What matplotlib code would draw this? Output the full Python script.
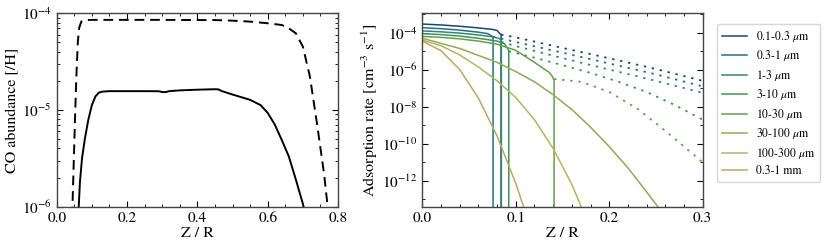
import numpy as np
import matplotlib
matplotlib.use("Agg")
import matplotlib.pyplot as plt
from matplotlib.ticker import MultipleLocator, FixedLocator, NullFormatter

plt.rcParams.update({
    "font.family": "STIXGeneral",
    "mathtext.fontset": "stix",
    "font.size": 11,
    "axes.labelsize": 11.5,
    "xtick.direction": "in",
    "ytick.direction": "in",
    "xtick.top": True,
    "ytick.right": True,
    "xtick.major.size": 4,
    "ytick.major.size": 4,
    "xtick.minor.size": 2,
    "ytick.minor.size": 2,
    "axes.edgecolor": "#444444",
    "axes.linewidth": 1.0,
})

# ---- left panel: CO abundance vs Z/R (log10 values)
z_total = [0.044, 0.048, 0.052, 0.056, 0.060, 0.064, 0.070, 0.080, 0.10, 0.20, 0.30,
           0.40, 0.45, 0.50, 0.55, 0.60, 0.64, 0.66, 0.68, 0.69, 0.70, 0.72, 0.74,
           0.76, 0.772]
co_total = [-6.1, -5.6, -5.1, -4.65, -4.3, -4.15, -4.085, -4.07, -4.068, -4.068, -4.068,
            -4.07, -4.07, -4.076, -4.086, -4.103, -4.121, -4.155, -4.207, -4.276, -4.345,
            -4.655, -5.138, -5.655, -6.05]

z_gas = [0.062, 0.066, 0.072, 0.080, 0.090, 0.100, 0.110, 0.120, 0.130, 0.15, 0.20, 0.25,
         0.29, 0.30, 0.31, 0.32, 0.35, 0.40, 0.45, 0.46, 0.47, 0.50, 0.55, 0.58, 0.60,
         0.62, 0.64, 0.66, 0.68, 0.70, 0.705]
co_gas = [-6.05, -5.75, -5.5, -5.3, -5.1, -4.95, -4.86, -4.82, -4.81, -4.805, -4.805, -4.805,
          -4.806, -4.814, -4.815, -4.805, -4.797, -4.79, -4.785, -4.787, -4.805, -4.84, -4.895,
          -4.95, -5.03, -5.15, -5.31, -5.48, -5.72, -5.97, -6.05]

# ---- right panel: adsorption rate per grain-size bin (log10 values)
labels = [r"0.1-0.3 $\mu$m", r"0.3-1 $\mu$m", r"1-3 $\mu$m", r"3-10 $\mu$m",
          r"10-30 $\mu$m", r"30-100 $\mu$m", r"100-300 $\mu$m", "0.3-1 mm"]

z_solid = [
    [0, 0.02, 0.04, 0.06, 0.075, 0.08, 0.083, 0.0843, 0.0843],
    [0, 0.02, 0.04, 0.06, 0.07, 0.0757, 0.0757],
    [0, 0.02, 0.04, 0.06, 0.075, 0.082, 0.0846, 0.0846],
    [0, 0.02, 0.04, 0.06, 0.08, 0.088, 0.0925, 0.0925],
    [0, 0.02, 0.04, 0.06, 0.08, 0.10, 0.12, 0.13, 0.136, 0.139, 0.141, 0.141],
    [0, 0.04, 0.08, 0.10, 0.12, 0.14, 0.16, 0.18, 0.20, 0.22, 0.24, 0.252, 0.26],
    [0, 0.02, 0.04, 0.06, 0.08, 0.10, 0.12, 0.14, 0.16, 0.175],
    [0, 0.02, 0.04, 0.06, 0.08, 0.10, 0.115],
]
rate_solid = [
    [-3.53, -3.58, -3.65, -3.74, -3.82, -3.88, -4.05, -4.1, -15],
    [-3.73, -3.78, -3.86, -3.97, -4.05, -4.22, -15],
    [-3.9, -3.95, -4.02, -4.12, -4.22, -4.3, -4.45, -15],
    [-4.05, -4.1, -4.18, -4.3, -4.45, -4.6, -4.95, -15],
    [-4.2, -4.25, -4.33, -4.45, -4.62, -4.95, -5.6, -5.95, -6.15, -6.35, -6.56, -15],
    [-4.3, -4.85, -5.6, -6.1, -6.65, -7.35, -8.15, -9.1, -10.15, -11.3, -12.6, -13.4, -14],
    [-4.4, -4.7, -5.2, -5.85, -6.6, -7.5, -8.7, -10.25, -12.2, -14],
    [-4.45, -4.97, -5.99, -7.53, -9.58, -12.14, -14.4],
]

# dotted continuation for the five smallest bins
z_dot = [
    [0.0843, 0.10, 0.15, 0.20, 0.25, 0.30],
    [0.0757, 0.10, 0.15, 0.20, 0.25, 0.30],
    [0.0846, 0.10, 0.15, 0.20, 0.25, 0.30],
    [0.0925, 0.12, 0.15, 0.18, 0.21, 0.24, 0.27, 0.30],
    [0.141, 0.17, 0.20, 0.23, 0.26, 0.30],
]
rate_dot = [
    [-4.1, -4.25, -4.82, -5.38, -5.96, -6.6],
    [-4.22, -4.5, -5.08, -5.66, -6.25, -6.9],
    [-4.5, -4.72, -5.37, -5.99, -6.6, -7.25],
    [-5.0, -5.35, -5.75, -6.17, -6.65, -7.2, -7.9, -8.7],
    [-6.5, -6.65, -7.2, -8.1, -9.3, -11.0],
]

colors = plt.cm.gist_earth(np.linspace(0.15, 0.78, len(labels)))

fig = plt.figure(figsize=(8.3, 2.5), dpi=100)
ax1 = fig.add_axes([0.0683, 0.1732, 0.339, 0.7736])
ax2 = fig.add_axes([0.5088, 0.1732, 0.3378, 0.7736])

ax1.plot(z_total, 10.0 ** np.array(co_total), color="k", lw=1.4, ls=(0, (5, 3)))
ax1.plot(z_gas, 10.0 ** np.array(co_gas), color="k", lw=1.4)
ax1.set_yscale("log")
ax1.set_xlim(0, 0.8)
ax1.set_ylim(1e-6, 1e-4)
ax1.xaxis.set_major_locator(MultipleLocator(0.2))
ax1.xaxis.set_minor_locator(MultipleLocator(0.05))
ax1.set_xlabel("Z / R", labelpad=1)
ax1.set_ylabel("CO abundance [/H]", labelpad=2)

for i in range(len(labels)):
    ax2.plot(z_solid[i], 10.0 ** np.array(rate_solid[i]), color=colors[i], lw=1.1,
             label=labels[i])
for i in range(len(z_dot)):
    ax2.plot(z_dot[i], 10.0 ** np.array(rate_dot[i]), color=colors[i], lw=1.3,
             ls=(0, (1.3, 3.2)))
ax2.set_yscale("log")
ax2.set_xlim(0, 0.3)
ax2.set_ylim(10 ** -13.4, 10 ** -2.95)
ax2.xaxis.set_major_locator(MultipleLocator(0.1))
ax2.xaxis.set_minor_locator(MultipleLocator(0.02))
ax2.yaxis.set_major_locator(FixedLocator([1e-12, 1e-10, 1e-8, 1e-6, 1e-4]))
ax2.yaxis.set_minor_locator(FixedLocator([1e-13, 1e-11, 1e-9, 1e-7, 1e-5, 1e-3]))
ax2.yaxis.set_minor_formatter(NullFormatter())
ax2.set_xlabel("Z / R", labelpad=1)
ax2.set_ylabel(r"Adsorption rate [cm$^{-3}$ s$^{-1}$]", labelpad=2)

fig.legend(loc="upper left", bbox_to_anchor=(0.8639, 0.904), bbox_transform=fig.transFigure,
           borderaxespad=0, fontsize=8.5, handlelength=2.1, labelspacing=0.38,
           frameon=True, fancybox=True, edgecolor="#cccccc")

fig.savefig("out.png", dpi=100)
